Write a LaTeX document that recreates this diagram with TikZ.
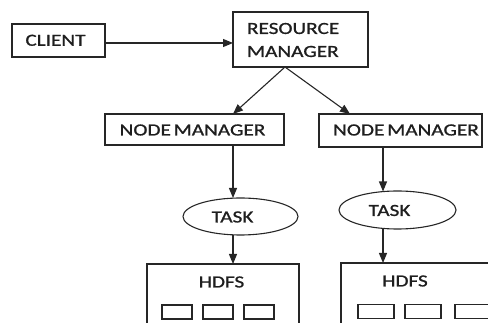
\documentclass[tikz,border=0pt]{standalone}
\usepackage{fontspec}
\usepackage{graphicx}
\setmainfont{Carlito}[FakeBold=0.9]
\usetikzlibrary{arrows.meta,shapes.geometric}
\definecolor{linecol}{HTML}{262626}
\definecolor{txtcol}{HTML}{1E1E1E}
% wide capitals, as in the drawing
\newcommand\widecaps[1]{\scalebox{1.25}[1]{#1}}
\begin{document}
\begin{tikzpicture}[x=1pt,y=-1pt,
  frame/.style={draw=linecol, line width=1.1pt, inner sep=0pt, outer sep=0pt},
  oval/.style={ellipse, draw=linecol, line width=1.1pt, inner sep=0pt, outer sep=0pt},
  label/.style={inner sep=0pt, outer sep=0pt, text=txtcol,
    font=\fontsize{17}{20}\selectfont},
  arr/.style={draw=linecol, line width=1.1pt, -{Triangle[length=10pt,width=8pt]}},
  cell/.style={draw=linecol, line width=1.1pt, inner sep=0pt, outer sep=0pt,
    minimum height=14pt}]
\useasboundingbox (0,0) rectangle (488,323);
\clip (0,0) rectangle (488,323);

% top row
\node[frame, minimum width=93pt, minimum height=33pt] (client) at (58.5,40.5) {};
\node[label] (clientT) at (55.5,40.3) {\widecaps{CLIENT}};
\node[frame, minimum width=135pt, minimum height=55pt] (rm) at (300.5,39.5) {};
\node[label, anchor=west] (rmT1) at (247,28.5) {\widecaps{RESOURCE}};
\node[label, anchor=west] (rmT2) at (247,51.5) {\widecaps{MANAGER}};

% node managers
\node[frame, minimum width=179pt, minimum height=31pt] (nm1) at (194.5,129.5) {};
\node[label] (nm1T) at (192.5,130) {\widecaps{NODE\hspace{0.13em}MANAGER}};
\node[frame, minimum width=163pt, minimum height=33pt] (nm2) at (400.5,130.5) {};
\node[label] (nm2T) at (406,130) {\widecaps{NODE\hspace{0.13em}MANAGER}};

% tasks
\node[oval, minimum width=115pt, minimum height=37pt] (task1) at (240.5,216.5) {};
\node[label] (task1T) at (232.5,217) {\widecaps{TASK}};
\node[oval, minimum width=117pt, minimum height=38pt] (task2) at (397.5,210) {};
\node[label] (task2T) at (389.5,210.5) {\widecaps{TASK}};

% HDFS blocks, running off the lower edge
\node[frame, minimum width=152pt, minimum height=80pt] (hdfs1) at (223,304) {};
\node[label] (hdfs1T) at (221.5,282) {\widecaps{HDFS}};
\node[frame, minimum width=180pt, minimum height=80pt] (hdfs2) at (431,303) {};
\node[label] (hdfs2T) at (405,281) {\widecaps{HDFS}};

% storage cells
\node[cell, minimum width=30pt] (b11) at (177,312) {};
\node[cell, minimum width=30pt] (b12) at (218,312) {};
\node[cell, minimum width=30pt] (b13) at (259,312) {};
\node[cell, minimum width=36pt] (b21) at (376,311.5) {};
\node[cell, minimum width=36pt] (b22) at (423,311.5) {};
\node[cell, minimum width=36pt] (b23) at (473,311.5) {};

% connector columns
\coordinate (colL) at (233,0);
\coordinate (colR) at (383,0);
\coordinate (rmFoot) at (285,67);
\coordinate (nm1In) at (233,114);
\coordinate (nm2In) at (350,114);

% connectors
\draw[arr] (client.east |- 0,43) -- (rm.west |- 0,43);
\draw[arr] (rmFoot) -- (nm1In);
\draw[arr] (rmFoot) -- (nm2In);
\draw[arr] (nm1.south -| colL) -- (task1.north -| colL);
\draw[arr] (task1.south -| colL) -- (hdfs1.north -| colL);
\draw[arr] (nm2.south -| colR) -- ([yshift=-0.5pt]task2.north -| colR);
\draw[arr] ([yshift=-0.5pt]task2.south -| colR) -- (hdfs2.north -| colR);
\end{tikzpicture}
\end{document}
